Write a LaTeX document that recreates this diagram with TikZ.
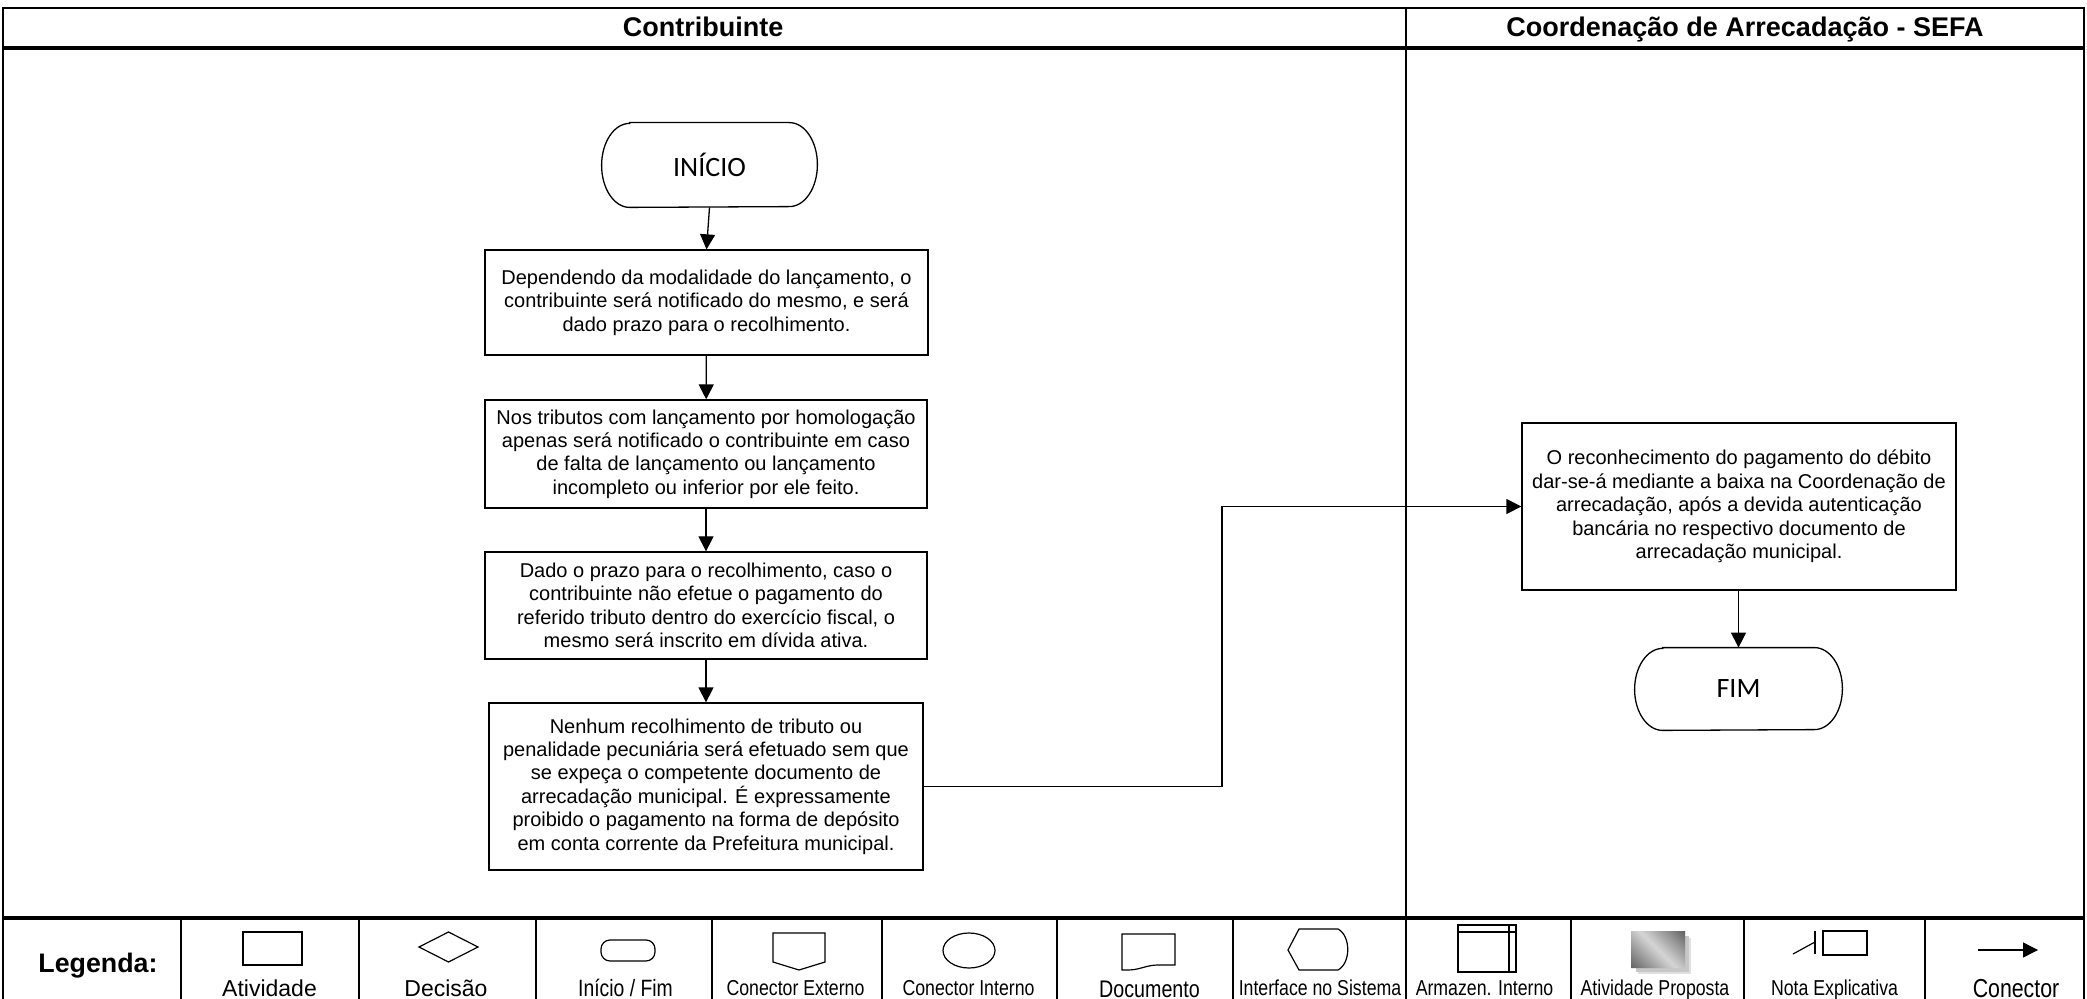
\documentclass[tikz,border=0pt]{standalone}
\usepackage{fontspec}
\setmainfont{Liberation Sans}
\newfontfamily\narrowfont[FakeStretch=0.82]{Liberation Sans}
\newfontfamily\calfont{Carlito}
\usetikzlibrary{arrows.meta}

\tikzset{
  actbox/.style={draw, line width=0.65pt, inner sep=0pt, align=center,
    font=\fontsize{10}{11.7}\selectfont},
  termbox/.style={inner sep=0pt, font=\calfont\fontsize{14}{16}\selectfont},
  flow/.style={line width=0.65pt, -{Triangle[length=7.5pt,width=7.5pt]}},
  lanehead/.style={anchor=base, inner sep=0pt, font=\bfseries\fontsize{13.5}{16}\selectfont},
  legwide/.style={anchor=base, inner sep=0pt, font=\fontsize{11.5}{13}\selectfont},
  legnarrow/.style={anchor=base, inner sep=0pt, font=\narrowfont\fontsize{10.8}{13}\selectfont},
  legbig/.style={anchor=base, inner sep=0pt, font=\narrowfont\fontsize{12}{14}\selectfont},
  icon/.style={line width=0.6pt},
}

\begin{document}
\begin{tikzpicture}[x=0.5pt,y=-0.5pt]
\useasboundingbox (0,0) rectangle (2087,999);

% ---- frame, lanes and legend grid ----
\draw[line width=1pt] (3,999) -- (3,8) -- (2084,8) -- (2084,999);
\draw[line width=2pt] (3,48) -- (2084,48);
\draw[line width=2pt] (3,918) -- (2084,918);
\draw[line width=0.75pt] (1406,8) -- (1406,918);
\foreach \x in {181,359,536,712,882,1057,1233,1406,1571,1744,1925}
  \draw[line width=0.8pt] (\x,918) -- (\x,999);

% ---- lane headers ----
\node[lanehead] (hcontrib) at (703,37) {Contribuinte};
\node[lanehead] (hsefa) at (1745,37) {Coordenação de Arrecadação - SEFA};

% ---- process ----
\node[termbox, minimum width=107.5pt, minimum height=42pt] (ini) at (709.5,165) {INÍCIO};
\draw[line width=0.65pt] ([xshift=14pt]ini.north west) -- ([xshift=-14pt]ini.north east)
  arc[start angle=90,end angle=-90,x radius=14pt,y radius=21pt]
  -- ([xshift=14pt]ini.south west)
  arc[start angle=270,end angle=90,x radius=14pt,y radius=21pt] -- cycle;

\node[actbox, minimum width=221.5pt, minimum height=52.5pt] (b1) at (706.5,302.5)
  {Dependendo da modalidade do lançamento, o\\contribuinte será notificado do mesmo, e será\\dado prazo para o recolhimento.};

\node[actbox, minimum width=221pt, minimum height=54pt] (b2) at (706,454)
  {Nos tributos com lançamento por homologação\\apenas será notificado o contribuinte em caso\\de falta de lançamento ou lançamento\\incompleto ou inferior por ele feito.};

\node[actbox, minimum width=221pt, minimum height=53.5pt] (b3) at (706,605.5)
  {Dado o prazo para o recolhimento, caso o\\contribuinte não efetue o pagamento do\\referido tributo dentro do exercício fiscal, o\\mesmo será inscrito em dívida ativa.};

\node[actbox, minimum width=217pt, minimum height=83.5pt] (b4) at (706,786.5)
  {Nenhum recolhimento de tributo ou\\penalidade pecuniária será efetuado sem que\\se expeça o competente documento de\\arrecadação municipal. É expressamente\\proibido o pagamento na forma de depósito\\em conta corrente da Prefeitura municipal.};

\node[actbox, minimum width=217pt, minimum height=83.5pt] (b5) at (1739,506.5)
  {O reconhecimento do pagamento do débito\\dar-se-á mediante a baixa na Coordenação de\\arrecadação, após a devida autenticação\\bancária no respectivo documento de\\arrecadação municipal.};

\node[termbox, minimum width=103.5pt, minimum height=41pt] (fim) at (1738.5,689) {FIM};
\draw[line width=0.65pt] ([xshift=14pt]fim.north west) -- ([xshift=-14pt]fim.north east)
  arc[start angle=90,end angle=-90,x radius=14pt,y radius=20.5pt]
  -- ([xshift=14pt]fim.south west)
  arc[start angle=270,end angle=90,x radius=14pt,y radius=20.5pt] -- cycle;

\coordinate (bend) at (1222,506.5);

\draw[flow] (ini.south) -- (b1.north);
\draw[flow] (b1) -- (b2);
\draw[flow] (b2) -- (b3);
\draw[flow] (b3) -- (b4);
\draw[flow] (b4.east) -| (bend) -- (b5.west);
\draw[flow] (b5.south -| fim.north) -- (fim.north);

% ---- legend ----
\node[anchor=base, inner sep=0pt, font=\bfseries\fontsize{13.4}{16}\selectfont] (legtitle) at (98,972) {Legenda:};

% activity
\draw[icon] (243,932) rectangle (302,965);
\node[legwide] (l1) at (269.5,996) {Atividade};
% decision
\draw[icon] (419,947) -- (448.5,932) -- (478,947) -- (448.5,962) -- cycle;
\node[legwide] (l2) at (446,996) {Decisão};
% start / end
\draw[icon, rounded corners=4.5pt] (601,940) rectangle (655,961);
\node[legbig, font=\narrowfont\fontsize{11.8}{14}\selectfont] (l3) at (625.5,996) {Início / Fim};
% external connector
\draw[icon] (773,933) -- (825,933) -- (825,962) -- (799,970) -- (773,962) -- cycle;
\node[legnarrow] (l4) at (795.5,995) {Conector Externo};
% internal connector
\draw[icon] (969,950.5) ellipse [x radius=13pt, y radius=8.75pt];
\node[legnarrow] (l5) at (968.5,995) {Conector Interno};
% document
\draw[icon] (1122,970) -- (1122,934) -- (1175,934) -- (1175,965) -- (1158,965)
  .. controls (1146,965) and (1140,970) .. (1128,970) -- cycle;
\node[legbig] (l6) at (1149.5,997) {Documento};
% system interface
\draw[icon] (1288,950) -- (1299,929) -- (1338,929)
  .. controls (1351,936) and (1351,963) .. (1338,970) -- (1299,970) -- cycle;
\node[legnarrow] (l7) at (1320,995) {Interface no Sistema};
% internal storage
\draw[icon] (1458,925) rectangle (1516,972);
\draw[icon] (1458,932) -- (1516,932);
\draw[icon] (1509,925) -- (1509,972);
\node[legnarrow] (l8) at (1484.5,995) {Armazen. Interno};
% proposed activity: soft shadow and a diagonal dark-light-dark gradient
\fill[black!12] (1638,938) rectangle (1691,974);
\fill[black!22] (1636,936) rectangle (1689,972);
\begin{scope}
  \clip (1631,931) rectangle (1685,968);
  \foreach \i in {0,...,29} {
    \pgfmathsetmacro{\sa}{91*\i/30}
    \pgfmathsetmacro{\sb}{91*(\i+1)/30+0.6}
    \pgfmathsetmacro{\dk}{16+46*abs(2*(\i+0.5)/30-1)}
    \fill[black!\dk] (1631+\sa,968) -- (1631+\sb,968) -- (1631,968-\sb) -- (1631,968-\sa) -- cycle;
  }
\end{scope}
\node[legnarrow] (l9) at (1655,995) {Atividade Proposta};
% explanatory note
\draw[icon] (1793,954) -- (1815,942);
\draw[icon] (1815,931) -- (1815,954);
\draw[icon] (1823,931) rectangle (1867,955);
\node[legnarrow] (l10) at (1834.5,995) {Nota Explicativa};
% connector
\coordinate (ca) at (1978,950);
\coordinate (cb) at (2038,950);
\draw[flow] (ca) -- (cb);
\node[legbig, font=\narrowfont\fontsize{13}{15}\selectfont] (l11) at (2016,997) {Conector};
\end{tikzpicture}
\end{document}
